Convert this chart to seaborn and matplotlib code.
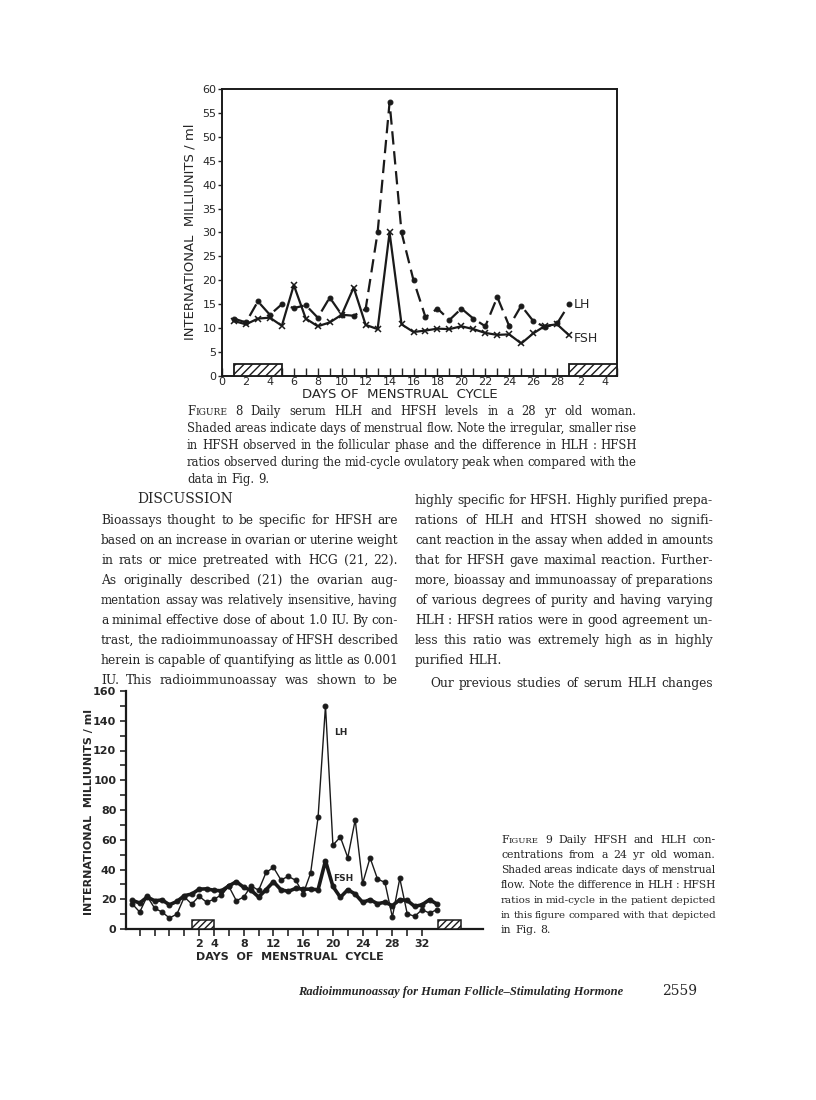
import matplotlib
matplotlib.use('Agg')
import matplotlib.pyplot as plt
from matplotlib.patches import Rectangle
import seaborn as sns

sns.set_theme(style='white')
plt.rcParams['font.family'] = ['DejaVu Sans']

W, H = 816, 1100

# Figure 8 data (28 yr old woman)
fig8_days = list(range(1, 30))
fig8_fsh = [11.5, 10.8, 12.0, 12.2, 10.5, 19.0, 12.0, 10.4, 11.2, 12.8,
            18.5, 10.7, 9.8, 30.0, 10.8, 9.2, 9.5, 9.9, 9.8, 10.4,
            9.8, 9.0, 8.6, 8.7, 6.8, 8.9, 10.5, 10.8, 8.5]
fig8_lh = [12.0, 11.2, 15.6, 12.8, 15.0, 14.2, 14.8, 12.2, 16.4, 12.8,
           12.6, 14.0, 30.0, 57.2, 30.0, 20.0, 12.3, 14.1, 11.7, 14.1,
           12.0, 10.4, 16.5, 10.4, 14.7, 11.5, 10.2, 11.0, 15.0]
fig8_ticks = list(range(0, 34))
fig8_ticklabels = ['0', '', '2', '', '4', '', '6', '', '8', '', '10', '', '12', '', '14', '',
                   '16', '', '18', '', '20', '', '22', '', '24', '', '26', '', '28', '',
                   '2', '', '4', '']
fig8_flow = [(1, 4), (29, 4)]

# Figure 9 data (24 yr old woman)
fig9_days = list(range(-7, 35))
fig9_lh = [16.8, 11.4, 22.0, 14.0, 11.4, 7.4, 10.0, 21.5, 16.8, 22.0,
           18.0, 20.0, 23.0, 28.6, 19.0, 21.5, 29.0, 26.0, 38.0, 41.4,
           33.0, 35.4, 32.7, 23.7, 37.6, 75.0, 150.0, 56.4, 61.8, 48.0,
           73.4, 30.7, 47.9, 33.6, 31.3, 8.0, 34.0, 10.3, 8.5, 13.0,
           10.7, 13.0]
fig9_fsh = [19.2, 17.5, 21.5, 19.0, 19.5, 16.3, 18.5, 22.4, 23.5, 26.8,
            27.0, 26.0, 25.7, 29.0, 31.8, 28.0, 26.0, 21.5, 26.4, 31.8,
            26.4, 25.3, 27.3, 26.8, 26.8, 26.4, 45.9, 28.6, 21.3, 26.4,
            23.5, 17.9, 19.7, 17.0, 18.0, 15.7, 19.7, 19.2, 15.2, 16.3,
            19.7, 16.8]
fig9_xticks = list(range(-6, 34, 2))
fig9_labels = {2: '2', 4: '4', 8: '8', 12: '12', 16: '16', 20: '20', 24: '24', 28: '28', 32: '32'}
fig9_flow = [(1, 3), (34.2, 3)]

fig = plt.figure(figsize=(W / 100, H / 100), dpi=100)
fig.patch.set_facecolor('white')


def px_axes(left, top, right, bottom):
    return fig.add_axes([left / W, 1 - bottom / H, (right - left) / W, (bottom - top) / H])


# ---------------- Figure 8 ----------------
ax1 = px_axes(222, 89, 617, 376)
sns.lineplot(x=fig8_days, y=fig8_lh, ax=ax1, color='k', linewidth=1.6,
             marker='o', markersize=3.5, markeredgecolor='k')
ax1.lines[-1].set_dashes([6, 3])
sns.lineplot(x=fig8_days, y=fig8_fsh, ax=ax1, color='k', linewidth=1.6,
             marker='x', markersize=5, markeredgecolor='k', markeredgewidth=1.1)
for x0, w in fig8_flow:
    ax1.add_patch(Rectangle((x0, 0), w, 2.5, facecolor='white', edgecolor='k',
                            hatch='////', linewidth=1.3, zorder=3))
ax1.set_xlim(0, 33)
ax1.set_ylim(0, 60)
ax1.set_xticks(fig8_ticks)
ax1.set_xticklabels(fig8_ticklabels)
ax1.set_yticks(range(0, 61, 5))
ax1.tick_params(axis='x', direction='in', length=6, width=1, pad=1, labelsize=8, bottom=True)
ax1.tick_params(axis='y', direction='out', length=3, width=1, pad=1, labelsize=8, left=True)
for s in ax1.spines.values():
    s.set_color('k')
    s.set_linewidth(1.4)
ax1.text(29.4, 15.0, 'LH', fontsize=9, va='center', ha='left')
ax1.text(29.4, 7.9, 'FSH', fontsize=9, va='center', ha='left')
ax1.set_xlabel('')
ax1.set_ylabel('')
fig.text(190 / W, 1 - 232 / H, 'INTERNATIONAL  MILLIUNITS / ml', rotation=90,
         ha='center', va='center', fontsize=9.5)
fig.text(400 / W, 1 - 395 / H, 'DAYS OF  MENSTRUAL  CYCLE', ha='center', va='center', fontsize=9.5)

# ---------------- Figure 9 ----------------
ax2 = px_axes(126, 691, 483, 929)
sns.lineplot(x=fig9_days, y=fig9_lh, ax=ax2, color='k', linewidth=1.0,
             marker='o', markersize=3.5, markeredgecolor='k')
sns.lineplot(x=fig9_days, y=fig9_fsh, ax=ax2, color='k', linewidth=2.6,
             marker='o', markersize=3.5, markeredgecolor='k')
for x0, w in fig9_flow:
    ax2.add_patch(Rectangle((x0, 0), w, 6, facecolor='white', edgecolor='k',
                            hatch='/////', linewidth=1.1, zorder=3, clip_on=False))
ax2.set_xlim(-7.85, 40.2)
ax2.set_ylim(0, 160)
ax2.set_xticks(fig9_xticks)
ax2.set_xticklabels([fig9_labels.get(d, '') for d in fig9_xticks])
ax2.set_yticks(range(0, 161, 10))
ax2.set_yticklabels([str(v) if v % 20 == 0 else '' for v in range(0, 161, 10)])
for lab in ax2.get_xticklabels() + ax2.get_yticklabels():
    lab.set_fontweight('bold')
ax2.tick_params(axis='x', direction='out', length=5, width=1.2, pad=2, labelsize=8, bottom=True)
ax2.tick_params(axis='y', direction='out', length=4, width=1.2, pad=3, labelsize=8, left=True)
sns.despine(ax=ax2)
for s in ['left', 'bottom']:
    ax2.spines[s].set_color('k')
    ax2.spines[s].set_linewidth(1.6)
ax2.text(21.0, 132, 'LH', fontsize=6.5, fontweight='bold', ha='center', va='center')
ax2.text(21.4, 34, 'FSH', fontsize=6.5, fontweight='bold', ha='center', va='center')
ax2.set_xlabel('')
ax2.set_ylabel('')
fig.text(89 / W, 1 - 812 / H, 'INTERNATIONAL  MILLIUNITS / ml', rotation=90,
         ha='center', va='center', fontsize=8, fontweight='bold')
fig.text(290 / W, 1 - 957 / H, 'DAYS  OF  MENSTRUAL  CYCLE', ha='center', va='center',
         fontsize=8, fontweight='bold')

# ---------------- page text ----------------
renderer = fig.canvas.get_renderer()
SERIF = 'DejaVu Serif'


def measure(word, size, **kw):
    t = fig.text(0, 0, word, fontsize=size, family=SERIF, **kw)
    w = t.get_window_extent(renderer).width
    t.remove()
    return w


def draw_line(x0, x1, y, text, size, justify=True, **kw):
    # shrink the line a little if the words would not fit with normal spaces
    while True:
        toks = []
        for word in text.split(' '):
            if word == 'FIGURE':
                pieces = [('F', size), ('IGURE', size * 0.78)]
            else:
                pieces = [(word, size)]
            toks.append([(p, s, measure(p, s, **kw)) for p, s in pieces])
        total = sum(w for t in toks for _, _, w in t)
        space = measure('a a', size, **kw) - measure('aa', size, **kw)
        if not justify or total + 0.7 * space * (len(toks) - 1) <= x1 - x0 or size < 6:
            break
        size -= 0.1
    if justify and len(toks) > 1:
        gap = (x1 - x0 - total) / (len(toks) - 1)
    else:
        gap = space
    x = x0
    for t in toks:
        for p, s, w in t:
            fig.text(x / W, 1 - y / H, p, fontsize=s, family=SERIF, ha='left', va='baseline', **kw)
            x += w
        x += gap


cap8 = ['FIGURE 8 Daily serum HLH and HFSH levels in a 28 yr old woman.',
        'Shaded areas indicate days of menstrual flow. Note the irregular, smaller rise',
        'in HFSH observed in the follicular phase and the difference in HLH : HFSH',
        'ratios observed during the mid-cycle ovulatory peak when compared with the',
        'data in Fig. 9.']
for i, line in enumerate(cap8):
    draw_line(187, 637, 415 + 17 * i, line, 8.4, justify=i < len(cap8) - 1)

fig.text(185 / W, 1 - 503 / H, 'DISCUSSION', family=SERIF, fontsize=10, ha='center',
         va='baseline')

left_col = ['Bioassays thought to be specific for HFSH are',
            'based on an increase in ovarian or uterine weight',
            'in rats or mice pretreated with HCG (21, 22).',
            'As originally described (21) the ovarian aug-',
            'mentation assay was relatively insensitive, having',
            'a minimal effective dose of about 1.0 IU. By con-',
            'trast, the radioimmunoassay of HFSH described',
            'herein is capable of quantifying as little as 0.001',
            'IU. This radioimmunoassay was shown to be']
for i, line in enumerate(left_col):
    draw_line(101, 398, 524 + 20 * i, line, 8.8)

right_col = ['highly specific for HFSH. Highly purified prepa-',
             'rations of HLH and HTSH showed no signifi-',
             'cant reaction in the assay when added in amounts',
             'that for HFSH gave maximal reaction. Further-',
             'more, bioassay and immunoassay of preparations',
             'of various degrees of purity and having varying',
             'HLH : HFSH ratios were in good agreement un-',
             'less this ratio was extremely high as in highly',
             'purified HLH.']
for i, line in enumerate(right_col):
    draw_line(415, 713, 504 + 20 * i, line, 8.8, justify=i < len(right_col) - 1)
draw_line(430, 713, 687, 'Our previous studies of serum HLH changes', 8.8)

cap9 = ['FIGURE 9 Daily HFSH and HLH con-',
        'centrations from a 24 yr old woman.',
        'Shaded areas indicate days of menstrual',
        'flow. Note the difference in HLH : HFSH',
        'ratios in mid-cycle in the patient depicted',
        'in this figure compared with that depicted',
        'in Fig. 8.']
for i, line in enumerate(cap9):
    draw_line(501, 716, 843 + 15 * i, line, 7.8, justify=i < len(cap9) - 1)

fig.text(298 / W, 1 - 995 / H, 'Radioimmunoassay for Human Follicle\u2013Stimulating Hormone',
         family='Liberation Serif', fontsize=9, fontweight='bold', fontstyle='italic',
         ha='left', va='baseline')
fig.text(662 / W, 1 - 995 / H, '2559', family=SERIF, fontsize=10, ha='left', va='baseline')

fig.savefig('out.png', dpi=100, facecolor='white')
